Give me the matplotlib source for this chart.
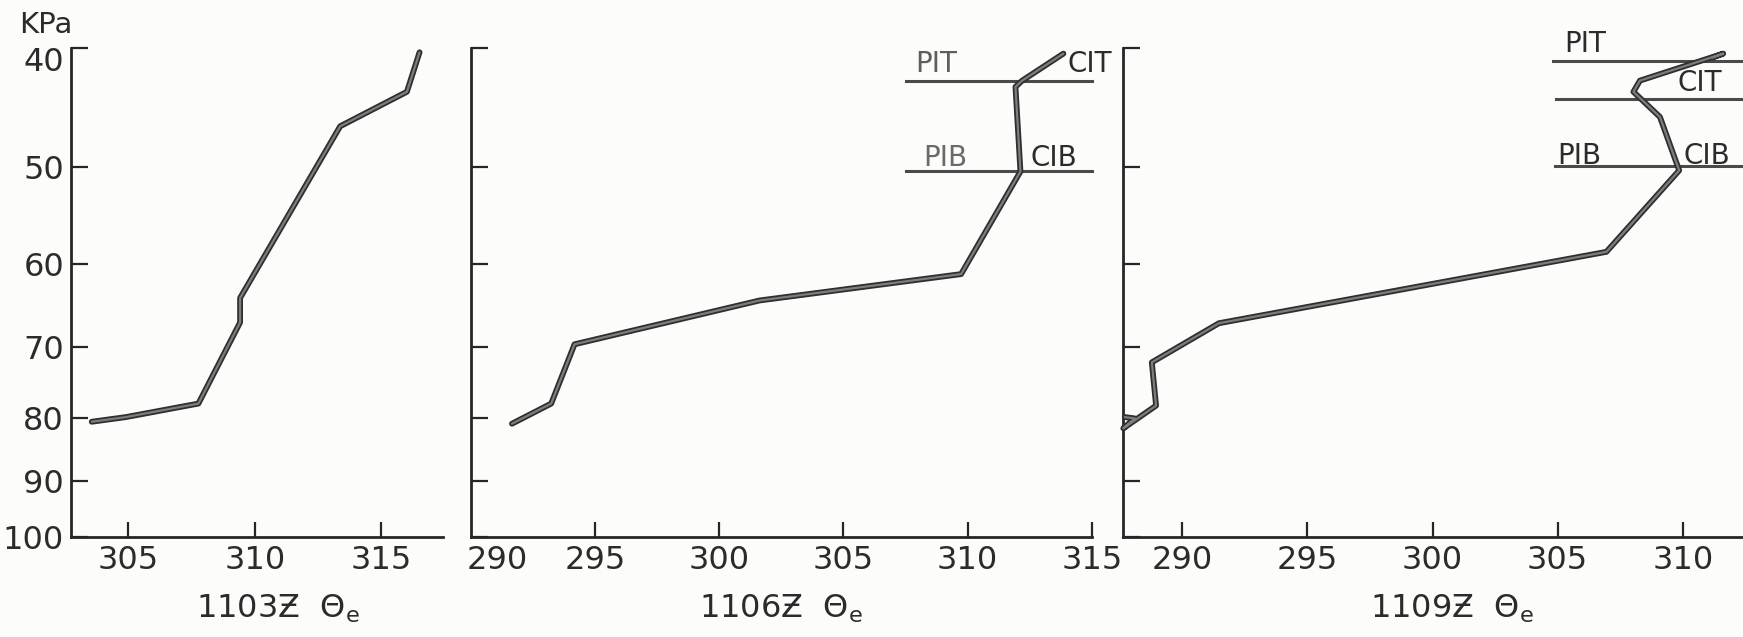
import matplotlib
matplotlib.use("Agg")
import matplotlib.pyplot as plt
from matplotlib.ticker import FixedLocator, NullLocator, NullFormatter

# ---- soundings: equivalent potential temperature (K) vs pressure (kPa) ----
theta_1103 = [303.55, 304.9, 307.77, 309.42, 309.42, 313.38, 316.02, 316.52]
pres_1103 = [80.6, 79.9, 77.9, 66.9, 63.9, 46.3, 43.4, 40.3]

theta_1106 = [291.65, 293.23, 294.17, 301.62, 309.74, 312.13, 311.93, 312.2, 313.86]
pres_1106 = [80.9, 77.9, 69.7, 64.2, 61.1, 50.4, 43.0, 42.5, 40.4]

theta_1109 = [287.70, 288.10, 287.64, 288.95, 288.78, 291.46, 306.95, 309.86,
              309.09, 308.03, 308.29, 311.62, 311.2]
pres_1109 = [79.9, 80.1, 81.6, 78.2, 72.1, 67.0, 58.6, 50.3,
             45.5, 43.4, 42.5, 40.4, 40.7]

# inversion layer boundaries: (name, pressure, theta start, theta end)
layers_1106 = [("PIT", 42.5, 307.52, 315.0), ("PIB", 50.4, 307.52, 315.0)]
layers_1109 = [("PIT", 40.94, 304.83, 315.0), ("CIT", 44.0, 304.94, 315.0),
               ("PIB", 49.86, 304.9, 315.0)]
# layer tags: (text, theta, pressure, colour)
tags_1106 = [("PIT", 308.72, 41.23, "#5e5e5e"), ("CIT", 314.93, 41.23, "#2b2b2b"),
             ("PIB", 309.12, 49.1, "#6a6a6a"), ("CIB", 313.47, 49.1, "#2b2b2b")]
tags_1109 = [("PIT", 306.09, 39.7, "#2b2b2b"), ("CIT", 310.69, 42.7, "#2b2b2b"),
             ("PIB", 305.86, 49.0, "#2b2b2b"), ("CIB", 310.96, 49.0, "#2b2b2b")]

pressure_ticks = [40, 50, 60, 70, 80, 90, 100]
pressure_labels = ["", "50", "60", "70", "80", "90", "100"]
xticks_1103 = [305, 310, 315]
xticks_1106 = [295, 300, 305, 310, 315]
xticks_1109 = [290, 295, 300, 305, 310]
titles = ["1103Ƶ  $\\Theta_{\\mathrm{e}}$", "1106Ƶ  $\\Theta_{\\mathrm{e}}$",
          "1109Ƶ  $\\Theta_{\\mathrm{e}}$"]

W, H, DPI = 1743, 637, 100
INK = "#262626"
TXT = "#2b2b2b"
FS = 23
plt.rcParams["font.family"] = ["DejaVu Sans"]

fig = plt.figure(figsize=(W / DPI, H / DPI), dpi=DPI, facecolor="#fcfcfa")


def px_box(left, right, top, bottom):
    return [left / W, 1 - bottom / H, (right - left) / W, (bottom - top) / H]


TOP, BOT = 48.3, 536.7
ax1 = fig.add_axes(px_box(71, 443.3, TOP, BOT))
ax2 = fig.add_axes(px_box(471, 1091.7, TOP, BOT))
ax3 = fig.add_axes(px_box(1123.3, 1807.8, TOP, BOT))

setup = [(ax1, (302.73, 317.46), xticks_1103),
         (ax2, (290.0, 315.0), xticks_1106),
         (ax3, (287.64, 315.0), xticks_1109)]

for ax, xlim, xt in setup:
    ax.set_facecolor("none")
    ax.set_yscale("log")
    ax.set_ylim(100, 40)
    ax.set_xlim(*xlim)
    for s in ("top", "right"):
        ax.spines[s].set_visible(False)
    for s in ("left", "bottom"):
        ax.spines[s].set_linewidth(2.0)
        ax.spines[s].set_color(INK)
    ax.yaxis.set_major_locator(FixedLocator(pressure_ticks))
    ax.yaxis.set_minor_locator(NullLocator())
    ax.yaxis.set_minor_formatter(NullFormatter())
    ax.set_xticks(xt)
    ax.set_xticklabels([str(v) for v in xt])
    ax.tick_params(axis="both", direction="in", width=1.6, color=INK,
                   labelsize=FS, labelcolor=TXT)
    ax.tick_params(axis="y", length=12.0, pad=5)
    ax.tick_params(axis="x", length=11.0, pad=6)

ax1.set_yticklabels(pressure_labels)
ax2.set_yticklabels([])
ax3.set_yticklabels([])

# top label of the pressure axis sits a little below its bracket
ax1.annotate("40", xy=(0, 40), xycoords=("axes fraction", "data"),
             xytext=(-7, -14), textcoords="offset pixels",
             ha="right", va="center", fontsize=FS, color=TXT)
# 290 of the middle panel is written clear of the corner
ax2.annotate("290", xy=(290, 0), xycoords=("data", "axes fraction"),
             xytext=(26, -8.5), textcoords="offset pixels",
             ha="center", va="top", fontsize=FS, color=TXT)


def profile(ax, th, p):
    ax.plot(th, p, color="#2f2f2f", lw=4.2, solid_capstyle="round",
            solid_joinstyle="round", clip_on=False, zorder=3)
    ax.plot(th, p, color="#7d7d7d", lw=1.6, solid_capstyle="round",
            solid_joinstyle="round", clip_on=False, zorder=4)


profile(ax1, theta_1103, pres_1103)
profile(ax2, theta_1106, pres_1106)
profile(ax3, theta_1109, pres_1109)

for ax, layers, tags in ((ax2, layers_1106, tags_1106), (ax3, layers_1109, tags_1109)):
    for name, p, t0, t1 in layers:
        ax.plot([t0, t1], [p, p], color="#4a4a4a", lw=2.2, clip_on=False, zorder=2)
    for txt, th, p, col in tags:
        ax.text(th, p, txt, ha="center", va="center", fontsize=20, color=col)

for x_px, title in zip([278, 781, 1452], titles):
    fig.text(x_px / W, 1 - 618 / H, title, ha="center", va="baseline",
             fontsize=FS, color=TXT)

fig.text(46 / W, 1 - 25 / H, "KPa", ha="center", va="center", fontsize=21, color=TXT)

fig.savefig("out.png", dpi=DPI, facecolor=fig.get_facecolor())
